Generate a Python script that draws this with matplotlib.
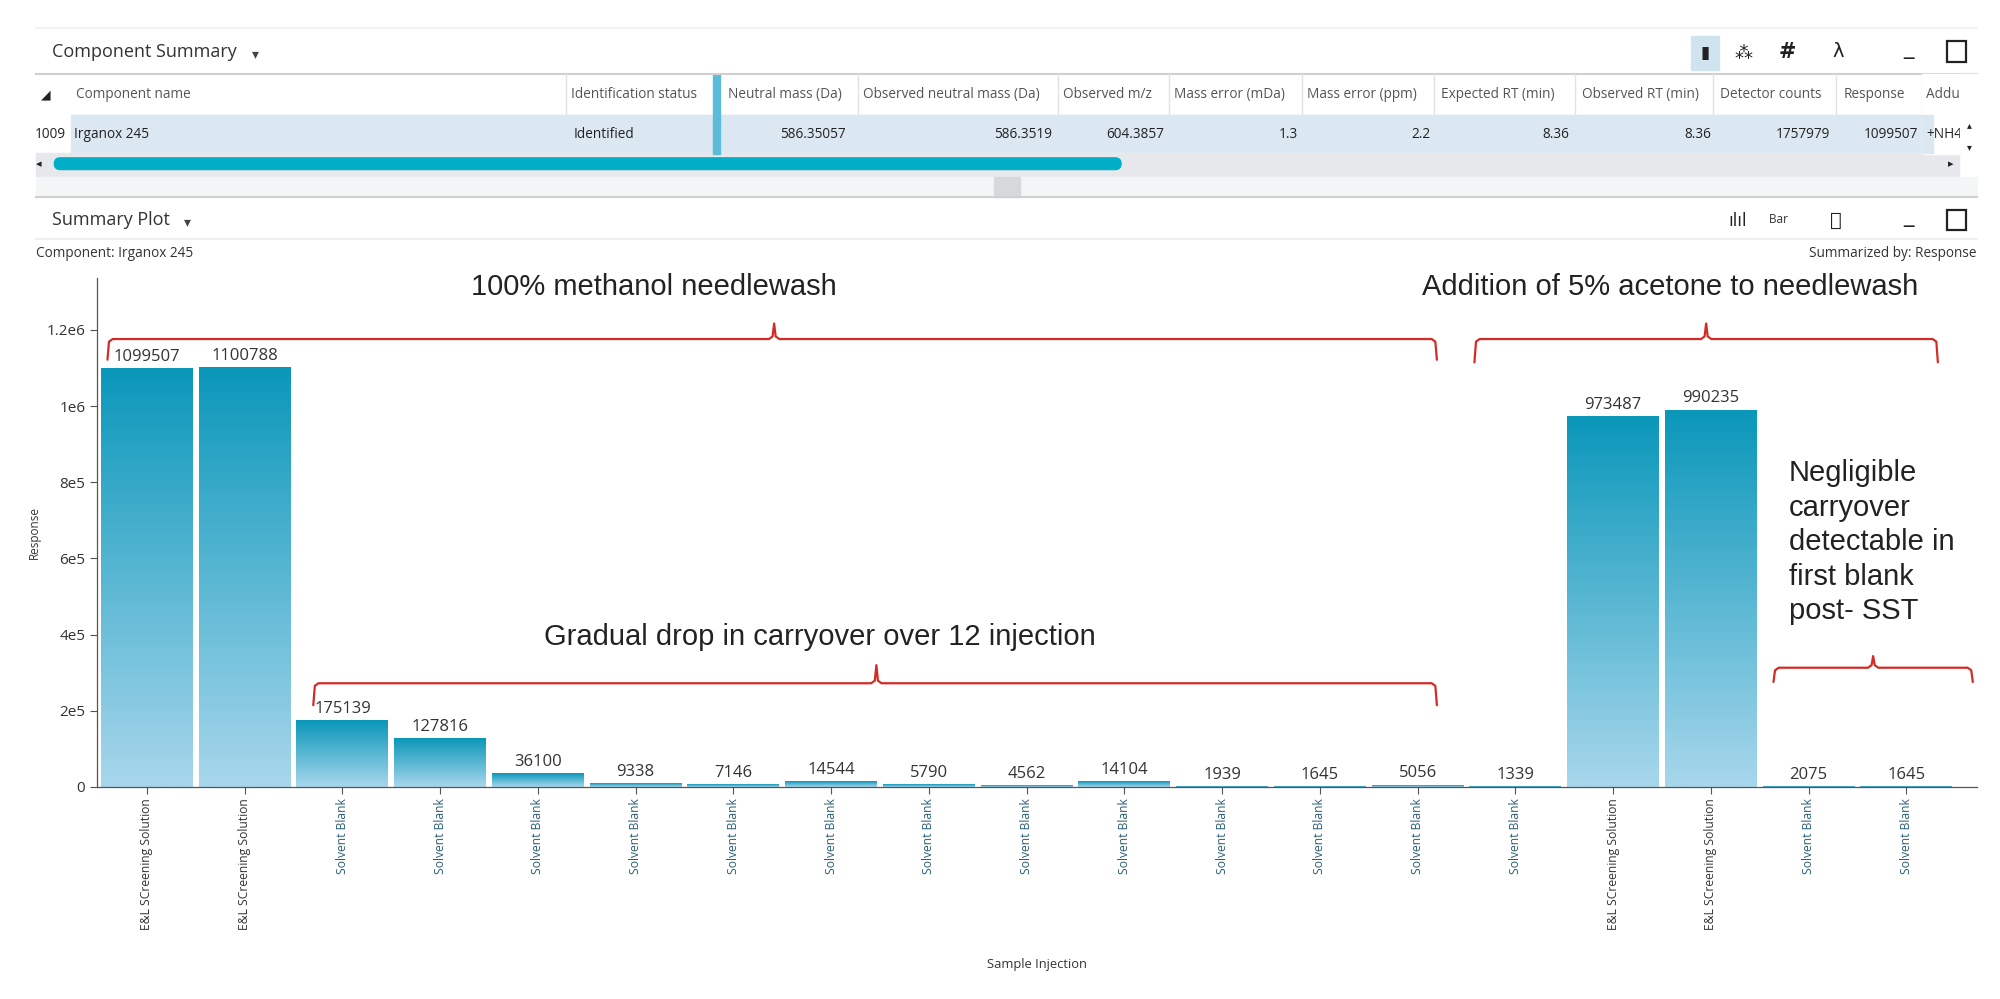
import numpy as np
import matplotlib
matplotlib.use("Agg")
import matplotlib.pyplot as plt
from matplotlib.patches import Rectangle, FancyBboxPatch
from matplotlib.colors import LinearSegmentedColormap

categories = ["E&L SCreening Solution", "E&L SCreening Solution"] + ["Solvent Blank"] * 13 + \
             ["E&L SCreening Solution", "E&L SCreening Solution", "Solvent Blank", "Solvent Blank"]
values = [1099507, 1100788, 175139, 127816, 36100, 9338, 7146, 14544, 5790, 4562,
          14104, 1939, 1645, 5056, 1339, 973487, 990235, 2075, 1645]
y_ticks = [0, 200000, 400000, 600000, 800000, 1000000, 1200000]
y_tick_labels = ["0", "2e5", "4e5", "6e5", "8e5", "1e6", "1.2e6"]

table_headers = ["Component name", "Identification status", "Neutral mass (Da)", "Observed neutral mass (Da)",
                 "Observed m/z", "Mass error (mDa)", "Mass error (ppm)", "Expected RT (min)",
                 "Observed RT (min)", "Detector counts", "Response", "Addu"]
table_row = ["Irganox 245", "Identified", "586.35057", "586.3519", "604.3857", "1.3", "2.2",
             "8.36", "8.36", "1757979", "1099507", "+NH4"]

UI = "Open Sans"
ANN = "Liberation Sans"
W, H = 1545, 772
TF = 9.8
fig = plt.figure(figsize=(20, 9.99), dpi=100)
fig.patch.set_facecolor("white")

ov = fig.add_axes([0, 0, 1, 1])
ov.set_xlim(0, W); ov.set_ylim(H, 0); ov.axis("off")
ov.set_zorder(0)

def hline(y, x0=28, x1=1527, c="#e3e3e3", lw=1.2):
    ov.plot([x0, x1], [y, y], color=c, lw=lw)

hline(22, c="#f0f0f0")
ov.text(40, 40, "Component Summary", fontsize=13, family=UI, color="#333", va="center")
ov.text(195, 42, "▾", fontsize=10, family="DejaVu Sans", color="#444", va="center")
hline(57, c="#d0d0d0", lw=1.5)
ov.text(32, 73, "◢", fontsize=9, family="DejaVu Sans", color="#222", va="center")
hx = [59, 441, 562, 667, 821, 907, 1010, 1113, 1222, 1329, 1424, 1489]
seps = [437, 663, 817, 903, 1006, 1108, 1217, 1323, 1418, 1485]
for x, t in zip(hx, table_headers):
    ov.text(x, 73, t, fontsize=TF, family=UI, color="#555", va="center", clip_on=True)
for s in seps:
    ov.plot([s, s], [57, 89], color="#e3e3e3", lw=1)
ov.add_patch(Rectangle((551, 57), 5, 62, color="#5bbcd9"))
ov.add_patch(Rectangle((55, 89), 1430, 29, color="#dbe8f1", zorder=0))
ov.text(27, 104, "1009", fontsize=TF, family=UI, color="#222", va="center")
ov.text(57, 104, table_row[0], fontsize=TF, family=UI, color="#222", va="center")
ov.text(443, 104, table_row[1], fontsize=TF, family=UI, color="#222", va="center")
rx = [653, 813, 899, 1003, 1105, 1212, 1322, 1414, 1482]
for x, t in zip(rx, table_row[2:11]):
    ov.text(x, 104, t, fontsize=TF, family=UI, color="#222", va="center", ha="right")
ov.add_patch(Rectangle((1485, 57), 45, 62, color="white", zorder=3))
ov.text(1488, 73, table_headers[11], fontsize=TF, family=UI, color="#555", va="center", zorder=4)
ov.text(1488, 104, table_row[11], fontsize=TF, family=UI, color="#222", va="center", zorder=4)
ov.add_patch(Rectangle((1485, 89), 8, 29, color="#dbe8f1", zorder=3))
ov.add_patch(Rectangle((1514, 57), 20, 62, color="white", zorder=5))
ov.text(1521, 97, "▴", fontsize=7, family="DejaVu Sans", color="#222", va="center", ha="center", zorder=6)
ov.text(1521, 114, "▾", fontsize=7, family="DejaVu Sans", color="#222", va="center", ha="center", zorder=6)
ov.add_patch(Rectangle((28, 118), 1485, 19, color="#e6e8ec", zorder=0))
ov.add_patch(FancyBboxPatch((42, 122), 824, 9, boxstyle="round,pad=0,rounding_size=4.5",
                            color="#00aec7", mutation_aspect=1))
ov.text(28, 127, "◂", fontsize=8, family="DejaVu Sans", color="#222", va="center")
ov.text(1505, 127, "▸", fontsize=8, family="DejaVu Sans", color="#222", va="center")
ov.add_patch(Rectangle((28, 137), 1499, 15, color="#f4f5f7", zorder=0))
ov.add_patch(Rectangle((768, 137), 20, 15, color="#d6d8dc"))
hline(152, c="#d0d0d0", lw=1.5)
ov.add_patch(Rectangle((1306, 28), 22, 26, color="#cfe4ef"))
ov.text(1317, 41, "▮", fontsize=12, family="DejaVu Sans", color="#222", ha="center", va="center")
ov.text(1347, 41, "⁂", fontsize=13, family="DejaVu Sans", color="#222", ha="center", va="center")
ov.text(1381, 40, "#", fontsize=15, family="DejaVu Sans", color="#222", ha="center", va="center", weight="bold")
ov.text(1420, 40, "λ", fontsize=14, family="DejaVu Sans", color="#222", ha="center", va="center")
ov.text(1474, 38, "_", fontsize=15, family="DejaVu Sans", color="#222", ha="center", va="center")
ov.add_patch(Rectangle((1504, 32), 15, 16, fill=False, ec="#222", lw=1.6))

ov.text(40, 170, "Summary Plot", fontsize=13, family=UI, color="#333", va="center")
ov.text(142, 172, "▾", fontsize=10, family="DejaVu Sans", color="#444", va="center")
ov.text(1342, 171, "ılıl", fontsize=12, family="DejaVu Sans", color="#222", ha="center", va="center")
ov.text(1378, 170, "Bar ▾", fontsize=8.5, family=UI, color="#333", ha="center", va="center")
ov.text(1418, 170, "⤡", fontsize=14, family="DejaVu Sans", color="#222", ha="center", va="center")
ov.text(1474, 168, "_", fontsize=15, family="DejaVu Sans", color="#222", ha="center", va="center")
ov.add_patch(Rectangle((1504, 162), 15, 16, fill=False, ec="#222", lw=1.6))
hline(185, c="#ececec")
ov.text(28, 196, "Component: Irganox 245", fontsize=TF, family=UI, color="#333", va="center")
ov.text(1527, 196, "Summarized by: Response", fontsize=TF, family=UI, color="#333", va="center", ha="right")

ax = fig.add_axes([75 / W, (H - 608) / H, (1527 - 75) / W, (608 - 215) / H])
ax.set_zorder(1); ax.patch.set_alpha(0)
ymax = 1.336e6
cmap = LinearSegmentedColormap.from_list("g", ["#a8d7ec", "#0a97ba"])
grad = np.linspace(0, 1, 256).reshape(-1, 1)
bw = 0.94
for i, v in enumerate(values):
    ax.imshow(grad, cmap=cmap, origin="lower", aspect="auto", extent=(i - bw / 2, i + bw / 2, 0, v),
              vmin=0, vmax=1, zorder=2)
    ax.text(i, v + 9000, f"{v}", ha="center", va="bottom", fontsize=12, family=UI, color="#333")
ax.set_aspect("auto")
ax.set_xlim(-0.51, 18.72); ax.set_ylim(0, ymax)
ax.set_xticks(range(len(values)))
ax.set_xticklabels(categories, rotation=90, fontsize=8.7, family=UI)
for lab, c in zip(ax.get_xticklabels(), categories):
    lab.set_color("#333" if c.startswith("E&L") else "#2b5f75")
ax.set_yticks(y_ticks); ax.set_yticklabels(y_tick_labels, fontsize=11, family=UI, color="#333")
ax.tick_params(axis="both", color="#555", length=5, width=0.8)
for s in ["top", "right"]:
    ax.spines[s].set_visible(False)
for s in ["left", "bottom"]:
    ax.spines[s].set_color("#555"); ax.spines[s].set_linewidth(0.9)
ax.set_ylabel("Response", fontsize=8.5, family=UI, color="#333", labelpad=4)
fig.text((75 + 1527) / 2 / W, 1 - 745 / H, "Sample Injection", fontsize=9.3, family=UI, color="#333", ha="center", va="center")

ann = fig.add_axes([0, 0, 1, 1]); ann.set_xlim(0, W); ann.set_ylim(H, 0); ann.axis("off")
ann.set_zorder(3)
RED = "#d52b27"

def brace(x0, x1, xm, yend, yline, ytip):
    r = 4
    xs = [x0, x0 + r * 0.3, x0 + r, xm - r, xm - r * 0.3, xm, xm + r * 0.3, xm + r, x1 - r, x1 - r * 0.3, x1]
    ys = [yend, yline + 2, yline, yline, yline - 2, ytip, yline - 2, yline, yline, yline + 2, yend]
    ann.plot(xs, ys, color=RED, lw=1.6, solid_joinstyle="round", solid_capstyle="round")

brace(83, 1110, 598, 278, 262, 250)
brace(1139, 1497, 1318, 280, 262, 250)
brace(242, 1110, 677, 545, 528, 514)
brace(1370, 1524, 1447, 527, 516, 507)
AF = 21
ann.text(505, 222, "100% methanol needlewash", fontsize=AF, family=ANN, color="#222", ha="center", va="center")
ann.text(1290, 222, "Addition of 5% acetone to needlewash", fontsize=AF, family=ANN, color="#222", ha="center", va="center")
ann.text(633, 492, "Gradual drop in carryover over 12 injection", fontsize=AF, family=ANN, color="#222", ha="center", va="center")
ann.text(1382, 419, "Negligible\ncarryover\ndetectable in\nfirst blank\npost- SST", fontsize=AF, family=ANN,
         color="#222", ha="left", va="center", linespacing=1.3)

fig.savefig("out.png", dpi=100)
